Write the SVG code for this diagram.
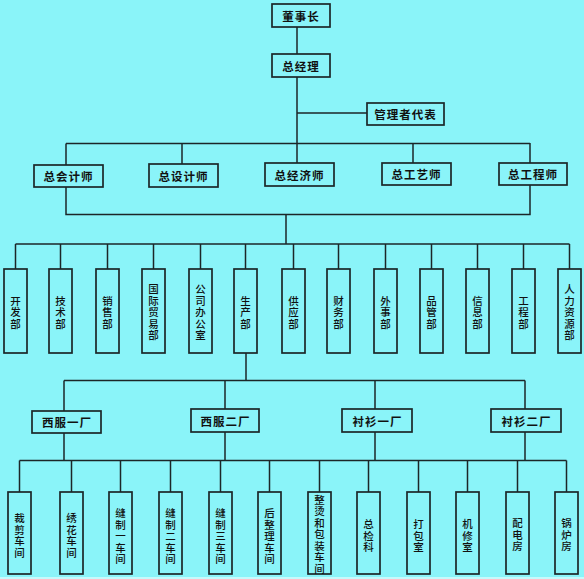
<svg xmlns="http://www.w3.org/2000/svg" width="584" height="579" viewBox="0 0 584 579">
<style>
.bg{fill:#8af4f9}
.box{fill:none;stroke:#1c2628;stroke-width:1.7}
.ln{fill:none;stroke:#1c2628;stroke-width:1.5}
.t{font-family:"Noto Sans CJK SC","Noto Sans",sans-serif;font-size:11.5px;fill:#111;text-anchor:middle;dominant-baseline:central}
.h{font-weight:bold;letter-spacing:1px}
.v{font-weight:500;font-size:10.5px}
</style>
<rect class="bg" x="0" y="0" width="584" height="579"/>
<rect x="0" y="577" width="584" height="2" fill="#c6fafc"/>
<g id="connectors">
<path class="ln" d="M297 27V54M297 77V143M297 113H367"/>
<path class="ln" d="M66 143.5H530M66 143.5V165M182 143.5V164M297 143V163M413 143V163M530 143V163"/>
<path class="ln" d="M66 187V214.5H530V185M286 214.5V244"/>
<path class="ln" d="M15.5 244H569.5M15.5 244V269M60.5 244V269M107.5 244V269M153.5 244V269M200.5 244V269M245.5 244V269M293.5 244V269M338.5 244V269M385.5 244V269M431.5 244V269M477.5 244V269M523.5 244V269M569.5 244V269"/>
<path class="ln" d="M246 353V380.5M64 380.5H525M64 380.5V411M225 380.5V409M375 380.5V409M525 380.5V409"/>
<path class="ln" d="M64 433V460.5M225 432V460.5M375 432V460.5M525 432V460.5M19.5 460.5H566.5"/>
<path class="ln" d="M19.5 460.5V492M71.5 460.5V492M120.5 460.5V492M170.5 460.5V492M220.5 460.5V492M269.5 460.5V492M319.5 460.5V492M368.5 460.5V492M418.5 460.5V492M467.5 460.5V492M517.5 460.5V492M566.5 460.5V492"/>
</g>
<g id="n-dongshizhang"><rect class="box" x="272" y="4" width="58" height="23"/><text class="t h" x="301" y="15.5">董事长</text></g>
<g id="n-zongjingli"><rect class="box" x="272" y="54" width="58" height="23"/><text class="t h" x="301" y="65.5">总经理</text></g>
<g id="n-guanlizhe"><rect class="box" x="367" y="103" width="77" height="22"/><text class="t h" x="405.5" y="114">管理者代表</text></g>
<g id="n-zkjs"><rect class="box" x="34" y="165" width="69" height="22"/><text class="t h" x="68.5" y="176">总会计师</text></g>
<g id="n-zsjs"><rect class="box" x="149" y="164" width="69" height="23"/><text class="t h" x="183.5" y="175.5">总设计师</text></g>
<g id="n-zjjs"><rect class="box" x="265" y="163" width="69" height="23"/><text class="t h" x="299.5" y="174.5">总经济师</text></g>
<g id="n-zgys"><rect class="box" x="382" y="163" width="69" height="22"/><text class="t h" x="416.5" y="174">总工艺师</text></g>
<g id="n-zgcs"><rect class="box" x="499" y="163" width="68" height="22"/><text class="t h" x="533" y="174">总工程师</text></g>

<g id="d-kaifa"><rect class="box" x="4" y="269" width="23" height="84"/><text class="t v"><tspan x="15.5" y="299.5">开</tspan><tspan x="15.5" y="311">发</tspan><tspan x="15.5" y="322.5">部</tspan></text></g>
<g id="d-jishu"><rect class="box" x="49" y="269" width="23" height="84"/><text class="t v"><tspan x="60.5" y="299.5">技</tspan><tspan x="60.5" y="311">术</tspan><tspan x="60.5" y="322.5">部</tspan></text></g>
<g id="d-xiaoshou"><rect class="box" x="96" y="269" width="23" height="84"/><text class="t v"><tspan x="107.5" y="299.5">销</tspan><tspan x="107.5" y="311">售</tspan><tspan x="107.5" y="322.5">部</tspan></text></g>
<g id="d-guoji"><rect class="box" x="142" y="269" width="23" height="84"/><text class="t v"><tspan x="153.5" y="288">国</tspan><tspan x="153.5" y="299.5">际</tspan><tspan x="153.5" y="311">贸</tspan><tspan x="153.5" y="322.5">易</tspan><tspan x="153.5" y="334">部</tspan></text></g>
<g id="d-bangong"><rect class="box" x="189" y="269" width="23" height="84"/><text class="t v"><tspan x="200.5" y="288">公</tspan><tspan x="200.5" y="299.5">司</tspan><tspan x="200.5" y="311">办</tspan><tspan x="200.5" y="322.5">公</tspan><tspan x="200.5" y="334">室</tspan></text></g>
<g id="d-shengchan"><rect class="box" x="234" y="269" width="23" height="84"/><text class="t v"><tspan x="245.5" y="299.5">生</tspan><tspan x="245.5" y="311">产</tspan><tspan x="245.5" y="322.5">部</tspan></text></g>
<g id="d-gongying"><rect class="box" x="282" y="269" width="23" height="84"/><text class="t v"><tspan x="293.5" y="299.5">供</tspan><tspan x="293.5" y="311">应</tspan><tspan x="293.5" y="322.5">部</tspan></text></g>
<g id="d-caiwu"><rect class="box" x="327" y="269" width="23" height="84"/><text class="t v"><tspan x="338.5" y="299.5">财</tspan><tspan x="338.5" y="311">务</tspan><tspan x="338.5" y="322.5">部</tspan></text></g>
<g id="d-waishi"><rect class="box" x="374" y="269" width="23" height="84"/><text class="t v"><tspan x="385.5" y="299.5">外</tspan><tspan x="385.5" y="311">事</tspan><tspan x="385.5" y="322.5">部</tspan></text></g>
<g id="d-pinguan"><rect class="box" x="420" y="269" width="23" height="84"/><text class="t v"><tspan x="431.5" y="299.5">品</tspan><tspan x="431.5" y="311">管</tspan><tspan x="431.5" y="322.5">部</tspan></text></g>
<g id="d-xinxi"><rect class="box" x="466" y="269" width="23" height="84"/><text class="t v"><tspan x="477.5" y="299.5">信</tspan><tspan x="477.5" y="311">息</tspan><tspan x="477.5" y="322.5">部</tspan></text></g>
<g id="d-gongcheng"><rect class="box" x="512" y="269" width="23" height="84"/><text class="t v"><tspan x="523.5" y="299.5">工</tspan><tspan x="523.5" y="311">程</tspan><tspan x="523.5" y="322.5">部</tspan></text></g>
<g id="d-renli"><rect class="box" x="558" y="269" width="23" height="84"/><text class="t v"><tspan x="569.5" y="288">人</tspan><tspan x="569.5" y="299.5">力</tspan><tspan x="569.5" y="311">资</tspan><tspan x="569.5" y="322.5">源</tspan><tspan x="569.5" y="334">部</tspan></text></g>

<g id="f-xf1"><rect class="box" x="32" y="411" width="69" height="22"/><text class="t h" x="67" y="422">西服一厂</text></g>
<g id="f-xf2"><rect class="box" x="191" y="409" width="68" height="23"/><text class="t h" x="225.5" y="420.5">西服二厂</text></g>
<g id="f-cs1"><rect class="box" x="342" y="409" width="70" height="23"/><text class="t h" x="377.5" y="420.5">衬衫一厂</text></g>
<g id="f-cs2"><rect class="box" x="491" y="409" width="70" height="23"/><text class="t h" x="526.5" y="420.5">衬衫二厂</text></g>

<g id="w-caijian"><rect class="box" x="8" y="492" width="23" height="82"/><text class="t v"><tspan x="19.5" y="517">裁</tspan><tspan x="19.5" y="528.5">剪</tspan><tspan x="19.5" y="540">车</tspan><tspan x="19.5" y="551.5">间</tspan></text></g>
<g id="w-xiuhua"><rect class="box" x="60" y="492" width="23" height="82"/><text class="t v"><tspan x="71.5" y="517">绣</tspan><tspan x="71.5" y="528.5">花</tspan><tspan x="71.5" y="540">车</tspan><tspan x="71.5" y="551.5">间</tspan></text></g>
<g id="w-fz1"><rect class="box" x="109" y="492" width="23" height="82"/><text class="t v"><tspan x="120.5" y="512">缝</tspan><tspan x="120.5" y="523.5">制</tspan><tspan x="120.5" y="535">一</tspan><tspan x="120.5" y="546.5">车</tspan><tspan x="120.5" y="558">间</tspan></text></g>
<g id="w-fz2"><rect class="box" x="159" y="492" width="23" height="82"/><text class="t v"><tspan x="170.5" y="512">缝</tspan><tspan x="170.5" y="523.5">制</tspan><tspan x="170.5" y="535">二</tspan><tspan x="170.5" y="546.5">车</tspan><tspan x="170.5" y="558">间</tspan></text></g>
<g id="w-fz3"><rect class="box" x="209" y="492" width="23" height="82"/><text class="t v"><tspan x="220.5" y="512">缝</tspan><tspan x="220.5" y="523.5">制</tspan><tspan x="220.5" y="535">三</tspan><tspan x="220.5" y="546.5">车</tspan><tspan x="220.5" y="558">间</tspan></text></g>
<g id="w-houzhengli"><rect class="box" x="258" y="492" width="23" height="82"/><text class="t v"><tspan x="269.5" y="512">后</tspan><tspan x="269.5" y="523.5">整</tspan><tspan x="269.5" y="535">理</tspan><tspan x="269.5" y="546.5">车</tspan><tspan x="269.5" y="558">间</tspan></text></g>
<g id="w-zhengtang"><rect class="box" x="308" y="492" width="23" height="82"/><text class="t v"><tspan x="319.5" y="498.5">整</tspan><tspan x="319.5" y="510">烫</tspan><tspan x="319.5" y="521.5">和</tspan><tspan x="319.5" y="533">包</tspan><tspan x="319.5" y="544.5">装</tspan><tspan x="319.5" y="556">车</tspan><tspan x="319.5" y="567.5">间</tspan></text></g>
<g id="w-zongjian"><rect class="box" x="357" y="492" width="23" height="82"/><text class="t v"><tspan x="368.5" y="523">总</tspan><tspan x="368.5" y="534.5">检</tspan><tspan x="368.5" y="546">科</tspan></text></g>
<g id="w-dabao"><rect class="box" x="407" y="492" width="23" height="82"/><text class="t v"><tspan x="418.5" y="523">打</tspan><tspan x="418.5" y="534.5">包</tspan><tspan x="418.5" y="546">室</tspan></text></g>
<g id="w-jixiu"><rect class="box" x="456" y="492" width="23" height="82"/><text class="t v"><tspan x="467.5" y="523">机</tspan><tspan x="467.5" y="534.5">修</tspan><tspan x="467.5" y="546">室</tspan></text></g>
<g id="w-peidian"><rect class="box" x="506" y="492" width="23" height="82"/><text class="t v"><tspan x="517.5" y="522">配</tspan><tspan x="517.5" y="533.5">电</tspan><tspan x="517.5" y="545">房</tspan></text></g>
<g id="w-guolu"><rect class="box" x="555" y="492" width="23" height="82"/><text class="t v"><tspan x="566.5" y="522">锅</tspan><tspan x="566.5" y="533.5">炉</tspan><tspan x="566.5" y="545">房</tspan></text></g>
</svg>
